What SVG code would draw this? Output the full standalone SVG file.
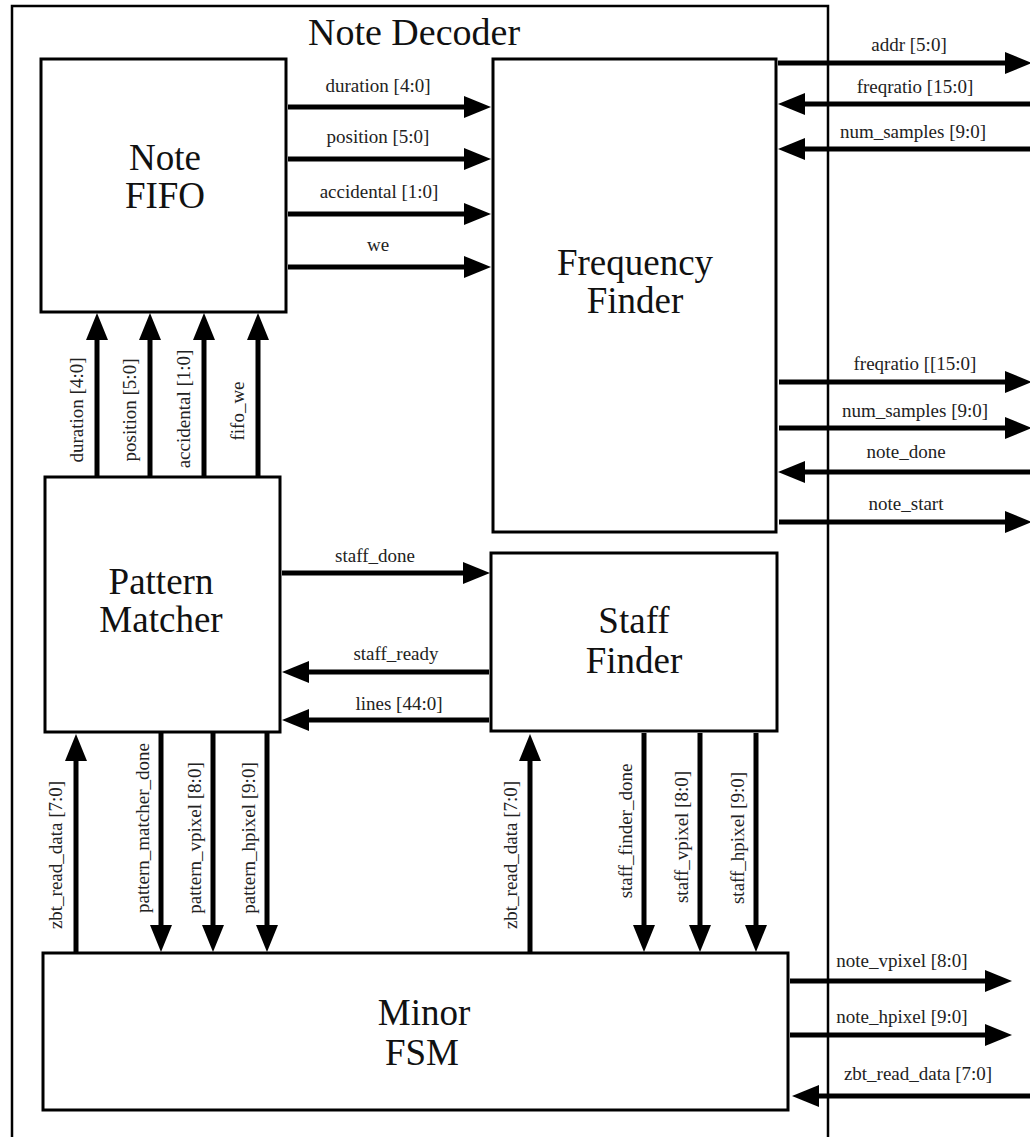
<svg xmlns="http://www.w3.org/2000/svg" width="1030" height="1137" viewBox="0 0 1030 1137">
<style>
.frame{fill:none;stroke:#000;stroke-width:2.5}
.box{fill:#fff;stroke:#000;stroke-width:3}
.title{font-family:"Liberation Serif","Times New Roman",serif;font-size:38px;fill:#111;text-anchor:middle}
.nl{font-family:"Liberation Serif","Times New Roman",serif;font-size:37px;fill:#111;text-anchor:middle}
.sl{font-family:"Liberation Serif","Times New Roman",serif;font-size:19px;fill:#222;text-anchor:middle}
.wire{fill:none;stroke:#000;stroke-width:5;marker-end:url(#ah)}
</style>
<defs>
<marker id="ah" markerUnits="userSpaceOnUse" markerWidth="27" markerHeight="22" viewBox="0 0 27 22" refX="6" refY="11" orient="auto">
<path d="M0,0 L27,11 L0,22 z" fill="#000"/>
</marker>
</defs>
<rect width="1030" height="1137" fill="#fff"/>
<g id="note-decoder">
<path class="frame" d="M12,1140 V6 H828 V1140"/>
<text class="title" x="414" y="45">Note Decoder</text>
</g>
<g id="note-fifo">
<rect class="box" x="41" y="59" width="245" height="253"/>
<text class="nl" x="165" y="170">Note</text>
<text class="nl" x="165" y="208">FIFO</text>
</g>
<g id="frequency-finder">
<rect class="box" x="493" y="59" width="283" height="473"/>
<text class="nl" x="635" y="275">Frequency</text>
<text class="nl" x="635" y="313">Finder</text>
</g>
<g id="pattern-matcher">
<rect class="box" x="45" y="477" width="235" height="255"/>
<text class="nl" x="161" y="594">Pattern</text>
<text class="nl" x="161" y="632">Matcher</text>
</g>
<g id="staff-finder">
<rect class="box" x="491" y="553" width="286" height="178"/>
<text class="nl" x="634" y="633">Staff</text>
<text class="nl" x="634" y="673">Finder</text>
</g>
<g id="minor-fsm">
<rect class="box" x="43" y="953" width="745" height="157"/>
<text class="nl" x="424" y="1025">Minor</text>
<text class="nl" x="422" y="1065">FSM</text>
</g>
<g id="connectors">
<path class="wire" d="M288,107 H470"/>
<path class="wire" d="M288,159 H470"/>
<path class="wire" d="M288,214 H470"/>
<path class="wire" d="M288,267 H470"/>
<path class="wire" d="M778,63 H1011"/>
<path class="wire" d="M1032,104 H799"/>
<path class="wire" d="M1032,149 H799"/>
<path class="wire" d="M779,382 H1011"/>
<path class="wire" d="M779,428 H1011"/>
<path class="wire" d="M1032,472 H799"/>
<path class="wire" d="M779,522 H1011"/>
<path class="wire" d="M97,477 V334"/>
<path class="wire" d="M150,477 V334"/>
<path class="wire" d="M204,477 V334"/>
<path class="wire" d="M258,477 V334"/>
<path class="wire" d="M282,573 H469"/>
<path class="wire" d="M489,672 H303"/>
<path class="wire" d="M489,720 H303"/>
<path class="wire" d="M76,952 V755"/>
<path class="wire" d="M161,733 V931"/>
<path class="wire" d="M213,733 V931"/>
<path class="wire" d="M267,733 V931"/>
<path class="wire" d="M530,952 V755"/>
<path class="wire" d="M644,733 V931"/>
<path class="wire" d="M700,733 V931"/>
<path class="wire" d="M756,733 V931"/>
<path class="wire" d="M790,981 H991"/>
<path class="wire" d="M790,1035 H991"/>
<path class="wire" d="M1032,1096 H813"/>
<text class="sl" x="378" y="92">duration [4:0]</text>
<text class="sl" x="378" y="143">position [5:0]</text>
<text class="sl" x="379" y="198">accidental [1:0]</text>
<text class="sl" x="378" y="251">we</text>
<text class="sl" x="909" y="51">addr [5:0]</text>
<text class="sl" x="915" y="93">freqratio [15:0]</text>
<text class="sl" x="913" y="138">num_samples [9:0]</text>
<text class="sl" x="915" y="370">freqratio [[15:0]</text>
<text class="sl" x="915" y="417">num_samples [9:0]</text>
<text class="sl" x="906" y="458">note_done</text>
<text class="sl" x="906" y="510">note_start</text>
<text class="sl" x="375" y="562">staff_done</text>
<text class="sl" x="396" y="660">staff_ready</text>
<text class="sl" x="399" y="710">lines [44:0]</text>
<text class="sl" x="902" y="967">note_vpixel [8:0]</text>
<text class="sl" x="902" y="1023">note_hpixel [9:0]</text>
<text class="sl" x="918" y="1080">zbt_read_data [7:0]</text>
<text class="sl" transform="translate(83,410) rotate(-90)">duration [4:0]</text>
<text class="sl" transform="translate(136,410) rotate(-90)">position [5:0]</text>
<text class="sl" transform="translate(190,409) rotate(-90)">accidental [1:0]</text>
<text class="sl" transform="translate(244,411) rotate(-90)">fifo_we</text>
<text class="sl" transform="translate(62,855) rotate(-90)">zbt_read_data [7:0]</text>
<text class="sl" transform="translate(149,828) rotate(-90)">pattern_matcher_done</text>
<text class="sl" transform="translate(201,838) rotate(-90)">pattern_vpixel [8:0]</text>
<text class="sl" transform="translate(255,838) rotate(-90)">pattern_hpixel [9:0]</text>
<text class="sl" transform="translate(517,855) rotate(-90)">zbt_read_data [7:0]</text>
<text class="sl" transform="translate(632,831) rotate(-90)">staff_finder_done</text>
<text class="sl" transform="translate(688,837) rotate(-90)">staff_vpixel [8:0]</text>
<text class="sl" transform="translate(744,838) rotate(-90)">staff_hpixel [9:0]</text>
</g>
</svg>
